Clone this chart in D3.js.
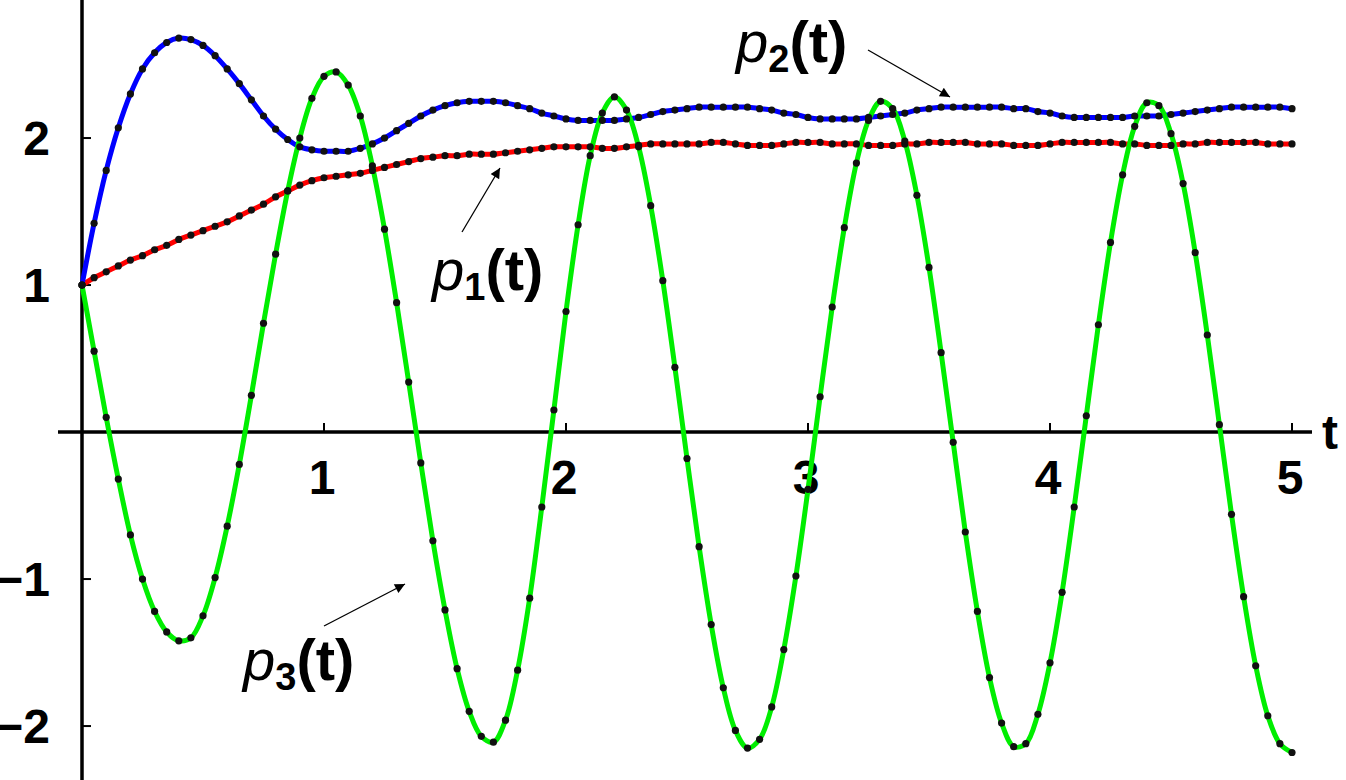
<!DOCTYPE html>
<html>
<head>
<meta charset="utf-8">
<script src="https://cdn.jsdelivr.net/npm/d3@7"></script>
<style>
  body { margin: 0; background: #fff; }
  text { font-family: "Liberation Sans", Arial, sans-serif; }
</style>
</head>
<body>
<svg id="chart" width="1346" height="780"></svg>
<script>
// sample times 0, 0.05, ... 5
const tValues = d3.range(0, 101).map(i => i * 0.05);

const p1 = [1,1.05,1.09,1.13,1.17,1.20,1.24,1.27,1.31,1.34,1.37,1.40,1.43,1.47,1.51,1.55,1.60,1.64,1.68,1.71,
  1.73,1.74,1.75,1.76,1.78,1.80,1.82,1.84,1.86,1.87,1.88,1.88,1.89,1.89,1.89,1.90,1.91,1.92,1.93,1.94,
  1.94,1.94,1.94,1.93,1.93,1.94,1.95,1.96,1.96,1.96,1.96,1.96,1.97,1.97,1.96,1.95,1.95,1.95,1.96,1.97,
  1.97,1.97,1.96,1.96,1.96,1.95,1.95,1.95,1.96,1.96,1.97,1.97,1.97,1.97,1.96,1.96,1.96,1.95,1.95,1.95,
  1.96,1.97,1.97,1.97,1.97,1.97,1.96,1.96,1.95,1.95,1.95,1.96,1.96,1.97,1.97,1.97,1.97,1.97,1.96,1.96,1.96];

const p2 = [1,1.42,1.78,2.07,2.30,2.47,2.58,2.65,2.68,2.67,2.63,2.56,2.47,2.37,2.26,2.15,2.06,1.99,1.94,1.92,
  1.91,1.91,1.91,1.93,1.96,2.00,2.05,2.10,2.15,2.19,2.22,2.24,2.25,2.25,2.25,2.24,2.22,2.20,2.17,2.15,
  2.13,2.12,2.12,2.12,2.12,2.13,2.14,2.16,2.18,2.19,2.20,2.21,2.21,2.21,2.21,2.21,2.20,2.19,2.17,2.16,
  2.14,2.13,2.13,2.13,2.13,2.14,2.15,2.16,2.17,2.19,2.20,2.21,2.21,2.21,2.21,2.21,2.21,2.20,2.20,2.18,
  2.17,2.15,2.14,2.14,2.14,2.14,2.14,2.15,2.15,2.15,2.16,2.17,2.18,2.19,2.20,2.21,2.21,2.21,2.21,2.21,2.20];

const p3 = [1,0.55,0.10,-0.32,-0.70,-1.00,-1.22,-1.36,-1.42,-1.40,-1.25,-0.99,-0.64,-0.22,0.25,0.74,1.21,1.64,2.00,2.27,
  2.42,2.45,2.36,2.15,1.81,1.38,0.88,0.34,-0.21,-0.74,-1.21,-1.61,-1.90,-2.07,-2.11,-1.96,-1.62,-1.13,-0.51,0.15,
  0.82,1.41,1.88,2.17,2.28,2.19,1.94,1.54,1.03,0.44,-0.18,-0.78,-1.31,-1.74,-2.03,-2.15,-2.09,-1.87,-1.48,-0.98,
  -0.39,0.24,0.85,1.39,1.83,2.12,2.25,2.20,1.98,1.61,1.12,0.54,-0.07,-0.68,-1.22,-1.67,-1.98,-2.14,-2.12,-1.92,
  -1.57,-1.09,-0.51,0.11,0.73,1.29,1.75,2.08,2.24,2.22,2.03,1.69,1.22,0.66,0.05,-0.56,-1.12,-1.59,-1.93,-2.12,-2.18];

const xTicks = [1, 2, 3, 4, 5];
const yTicks = [-2, -1, 1, 2];

const series = [
  {name: "p1", values: p1, color: "#ff0000"},
  {name: "p2", values: p2, color: "#0000ff"},
  {name: "p3", values: p3, color: "#00ee00"}
];

const svg = d3.select("#chart");
const x = d3.scaleLinear().domain([0, 5]).range([82, 1292]);
const y = d3.scaleLinear().domain([-2.367, 2.939]).range([780, 0]);

// axes
svg.append("line").attr("x1", 58).attr("x2", 1312).attr("y1", y(0)).attr("y2", y(0))
  .attr("stroke", "#000").attr("stroke-width", 3.5);
svg.append("line").attr("x1", x(0)).attr("x2", x(0)).attr("y1", 0).attr("y2", 780)
  .attr("stroke", "#000").attr("stroke-width", 3.5);

svg.selectAll(".xt").data(xTicks).enter().append("line")
  .attr("x1", d => x(d)).attr("x2", d => x(d)).attr("y1", y(0)).attr("y2", y(0) - 9)
  .attr("stroke", "#000").attr("stroke-width", 2);
svg.selectAll(".yt").data(yTicks).enter().append("line")
  .attr("x1", x(0)).attr("x2", x(0) + 9).attr("y1", d => y(d)).attr("y2", d => y(d))
  .attr("stroke", "#000").attr("stroke-width", 2);

svg.selectAll(".xl").data(xTicks).enter().append("text")
  .attr("x", d => x(d) - 2).attr("y", y(0) + 62).attr("text-anchor", "middle")
  .attr("font-size", 48).attr("font-weight", "bold").text(d => d);
svg.selectAll(".yl").data(yTicks).enter().append("text")
  .attr("x", 50).attr("y", d => y(d) + 17).attr("text-anchor", "end")
  .attr("font-size", 48).attr("font-weight", "bold").text(d => d < 0 ? "\u2212" + (-d) : d);
svg.append("text").attr("x", 1330).attr("y", y(0) + 17).attr("text-anchor", "middle")
  .attr("font-size", 48).attr("font-weight", "bold").text("t");

// curves
const line = d3.line().x((d, i) => x(tValues[i])).y(d => y(d)).curve(d3.curveCatmullRom);
series.forEach(s => {
  svg.append("path").datum(s.values).attr("d", line)
    .attr("fill", "none").attr("stroke", s.color).attr("stroke-width", 5);
});
series.forEach(s => {
  svg.append("g").selectAll("circle").data(s.values).enter().append("circle")
    .attr("cx", (d, i) => x(tValues[i])).attr("cy", d => y(d)).attr("r", 3.6).attr("fill", "#111");
});

// labels with arrows
svg.append("defs").append("marker").attr("id", "ah").attr("viewBox", "0 0 10 10")
  .attr("refX", 10).attr("refY", 5).attr("markerWidth", 14).attr("markerHeight", 10)
  .attr("markerUnits", "userSpaceOnUse").attr("orient", "auto")
  .append("path").attr("d", "M0,0 L10,5 L0,10 z").attr("fill", "#000");

const labels = [
  {sub: "2", lx: 736, ly: 62, ax1: 868, ay1: 50, ax2: 950, ay2: 97},
  {sub: "1", lx: 432, ly: 290, ax1: 462, ay1: 232, ax2: 500, ay2: 168},
  {sub: "3", lx: 243, ly: 680, ax1: 324, ay1: 626, ax2: 405, ay2: 584}
];
labels.forEach(l => {
  const t = svg.append("text").attr("x", l.lx).attr("y", l.ly).attr("font-size", 58);
  t.append("tspan").attr("font-style", "italic").text("p");
  t.append("tspan").attr("font-weight", "bold").attr("font-size", 38).attr("dy", 10).text(l.sub);
  t.append("tspan").attr("font-weight", "bold").attr("dy", -10).text("(t)");
  svg.append("line").attr("x1", l.ax1).attr("y1", l.ay1).attr("x2", l.ax2).attr("y2", l.ay2)
    .attr("stroke", "#000").attr("stroke-width", 1.3).attr("marker-end", "url(#ah)");
});
</script>
</body>
</html>
